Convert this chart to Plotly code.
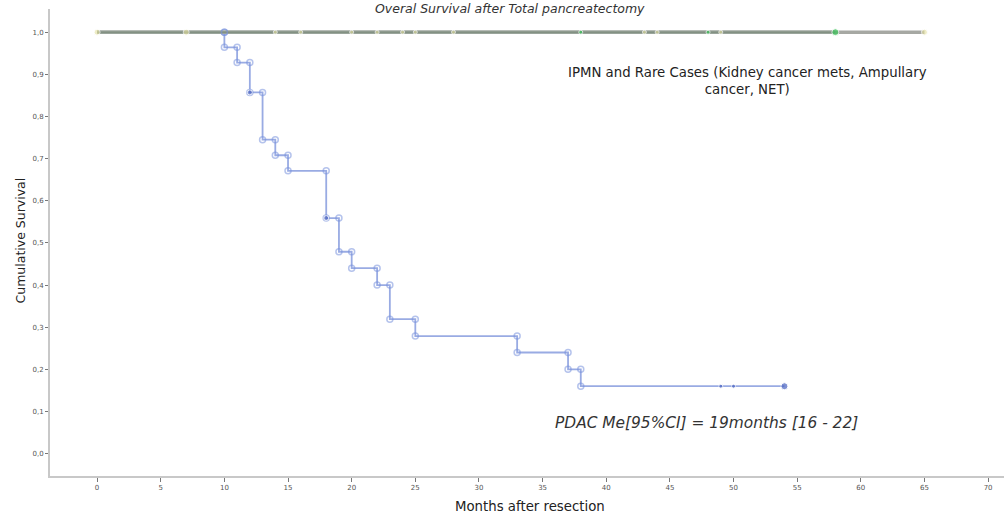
import plotly.graph_objects as go

# PDAC Kaplan-Meier data (event times and survival after each event)
pdac_times = [10, 11, 12, 13, 14, 15, 18, 19, 20, 22, 23, 25, 33, 37, 38]
pdac_surv = [0.964, 0.928, 0.857, 0.745, 0.708, 0.671, 0.559, 0.479, 0.440, 0.400, 0.319, 0.279, 0.240, 0.200, 0.160]
pdac_end = 54
pdac_censored_t = [12, 18, 49, 50, 54]
pdac_censored_s = [0.857, 0.559, 0.160, 0.160, 0.160]
pdac_censored_size = [5, 5, 4, 4, 7]

# IPMN group (green) censored times, all at survival 1.0
ipmn_censored_t = [0, 38, 48, 58]
# Rare cases group (khaki) censored times
rare_censored_t = [0, 7, 14, 16, 20, 22, 24, 25, 28, 43, 44, 49, 65]

x_ticks = list(range(0, 75, 5))
y_ticks = [0.0, 0.1, 0.2, 0.3, 0.4, 0.5, 0.6, 0.7, 0.8, 0.9, 1.0]
y_tick_labels = ["0,0", "0,1", "0,2", "0,3", "0,4", "0,5", "0,6", "0,7", "0,8", "0,9", "1,0"]

# Build step vertices for PDAC curve
step_x, step_y = [0], [1.0]
prev = 1.0
for t, s in zip(pdac_times, pdac_surv):
    step_x += [t, t]
    step_y += [prev, s]
    prev = s
step_x.append(pdac_end)
step_y.append(prev)

vert_x, vert_y = [], []
prev = 1.0
for t, s in zip(pdac_times, pdac_surv):
    vert_x += [t, t]
    vert_y += [prev, s]
    prev = s

fig = go.Figure()

fig.add_trace(go.Scatter(x=step_x, y=step_y, mode="lines",
                         line=dict(color="rgba(110,135,215,0.7)", width=1.8),
                         hoverinfo="skip", showlegend=False))
fig.add_trace(go.Scatter(x=vert_x, y=vert_y, mode="markers",
                         marker=dict(symbol="circle-open", size=6,
                                     color="rgba(120,145,220,0.55)",
                                     line=dict(width=1.5)),
                         showlegend=False))
fig.add_trace(go.Scatter(x=pdac_censored_t, y=pdac_censored_s, mode="markers",
                         marker=dict(symbol="circle", size=pdac_censored_size,
                                     color="#4862c0"),
                         showlegend=False))

# Rare cases line (grey) 0 -> 65
fig.add_trace(go.Scatter(x=[0, max(rare_censored_t)], y=[1.0, 1.0], mode="lines",
                         line=dict(color="#a6a8a3", width=3.5),
                         showlegend=False))
# IPMN line (green-grey) 0 -> 58
fig.add_trace(go.Scatter(x=[0, max(ipmn_censored_t)], y=[1.0, 1.0], mode="lines",
                         line=dict(color="#9aa59b", width=3.5),
                         showlegend=False))
fig.add_trace(go.Scatter(x=[0, max(ipmn_censored_t)], y=[1.0, 1.0], mode="lines",
                         line=dict(color="#788779", width=1),
                         showlegend=False))

fig.add_trace(go.Scatter(x=rare_censored_t, y=[1.0] * len(rare_censored_t), mode="markers",
                         marker=dict(symbol="circle",
                                     size=[6 if t in (0, 7, 65) else 4 for t in rare_censored_t],
                                     color="rgba(228,224,160,0.85)"),
                         showlegend=False))
fig.add_trace(go.Scatter(x=ipmn_censored_t[1:], y=[1.0] * (len(ipmn_censored_t) - 1), mode="markers",
                         marker=dict(symbol="circle",
                                     size=[4, 4, 7],
                                     color="#3cc45a"),
                         showlegend=False))
fig.add_trace(go.Scatter(x=[10], y=[1.0], mode="markers",
                         marker=dict(symbol="circle-open", size=6,
                                     color="rgba(120,145,220,0.6)", line=dict(width=1.5)),
                         showlegend=False))

fig.update_layout(
    width=1004, height=514,
    margin=dict(l=50, r=0, t=9, b=38, autoexpand=False),
    paper_bgcolor="white", plot_bgcolor="white",
    font=dict(family="DejaVu Sans", color="#333333"),
    xaxis=dict(range=[-3.7, 71.25], tickmode="array", tickvals=x_ticks,
               automargin=False,
               showgrid=False, zeroline=False, showline=True,
               linecolor="#c8c8c8", linewidth=2,
               ticks="outside", ticklen=4, tickcolor="#777777", tickwidth=1,
               tickfont=dict(size=7, color="#555555")),
    yaxis=dict(range=[-0.053, 1.055], tickmode="array", tickvals=y_ticks,
               ticktext=y_tick_labels, automargin=False,
               showgrid=False, zeroline=False, showline=True,
               linecolor="#c8c8c8", linewidth=2,
               ticks="outside", ticklen=3, tickcolor="#777777", tickwidth=1,
               tickfont=dict(size=7, color="#555555")),
    annotations=[
        dict(text="<i>Overal Survival after Total pancreatectomy</i>",
             xref="paper", yref="paper", x=0.482, y=1.0, yshift=1,
             xanchor="center", yanchor="middle", showarrow=False,
             font=dict(size=12.5, color="#333333")),
        dict(text="Cumulative Survival", textangle=-90,
             xref="paper", yref="paper", x=0, xshift=-30, y=0.5, yshift=2,
             xanchor="center", yanchor="middle", showarrow=False,
             font=dict(size=12.5, color="#222222")),
        dict(text="Months after resection",
             xref="paper", yref="paper", x=0.503, y=0, yshift=-30,
             xanchor="center", yanchor="middle", showarrow=False,
             font=dict(size=13.3, color="#222222")),
        dict(text="IPMN and Rare Cases (Kidney cancer mets, Ampullary<br>cancer, NET)",
             xref="x", yref="y", x=51.06, y=0.884, xanchor="center", yanchor="middle",
             showarrow=False, align="center",
             font=dict(size=13.3, color="#222222")),
        dict(text="<i>PDAC Me[95%CI] = 19months [16 - 22]</i>",
             xref="x", yref="y", x=47.84, y=0.073, xanchor="center", yanchor="middle",
             showarrow=False,
             font=dict(size=15.4, color="#333333")),
    ],
)

fig.write_html("out.html", config={"displayModeBar": False},
               post_script="document.body.style.margin='0px';document.body.style.overflow='hidden';")
